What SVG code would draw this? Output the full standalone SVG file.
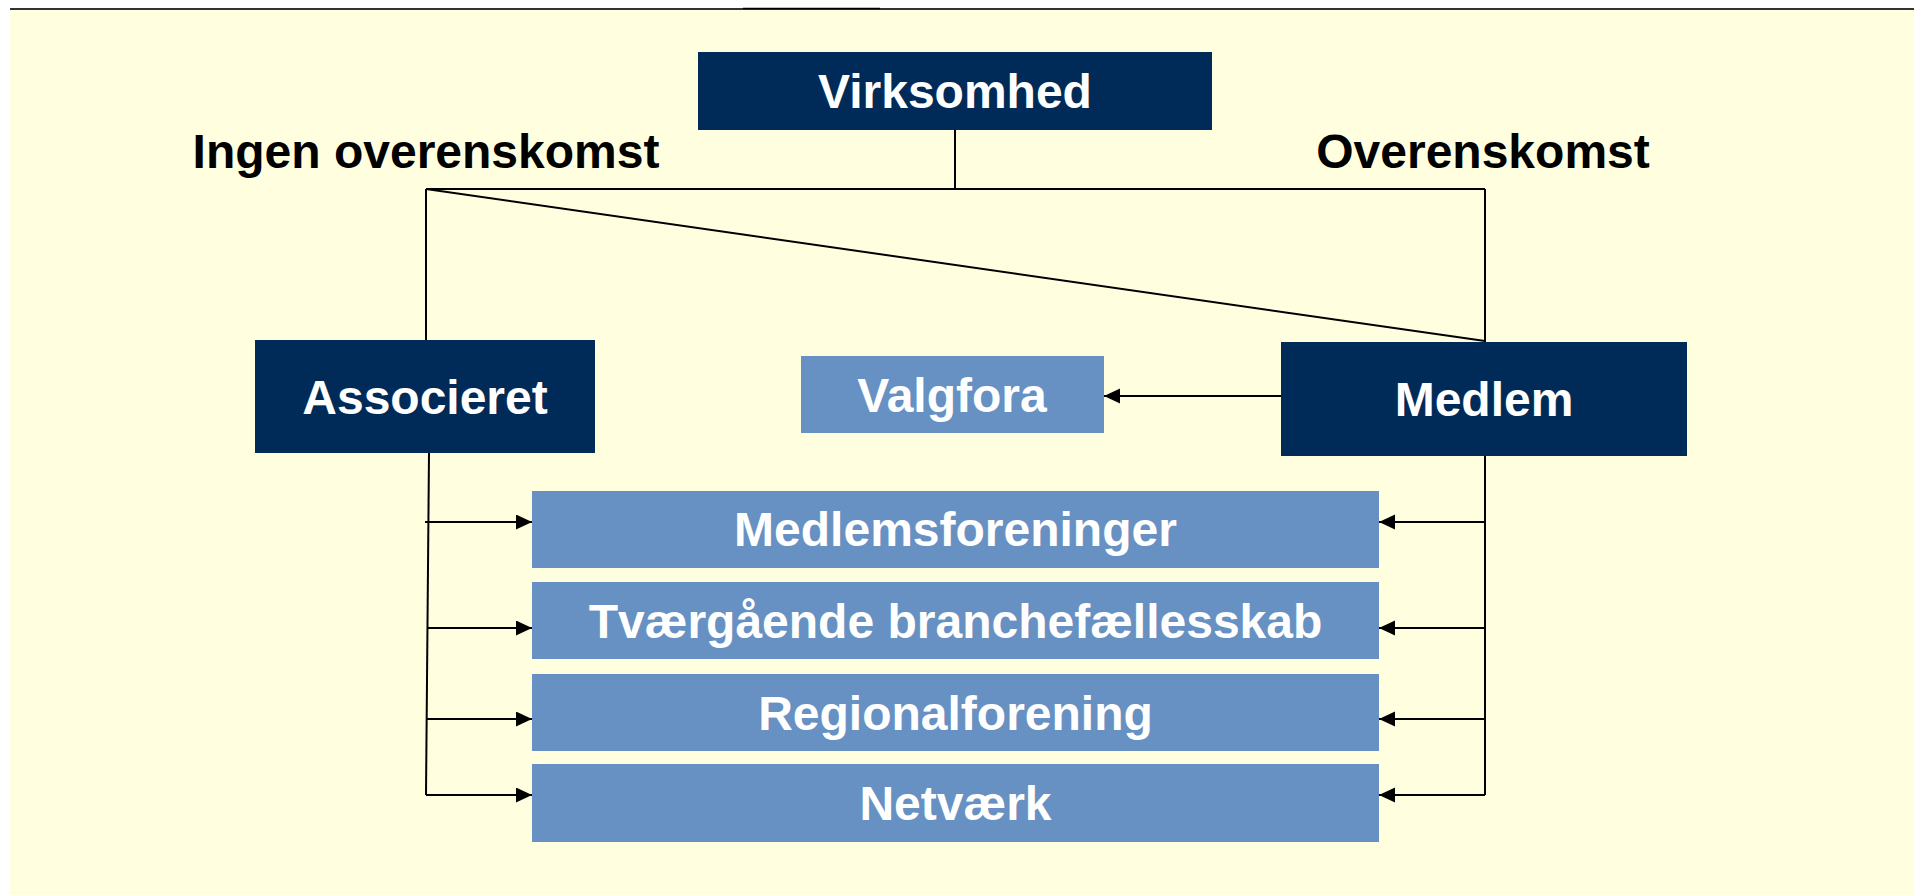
<svg xmlns="http://www.w3.org/2000/svg" width="1914" height="896" viewBox="0 0 1914 896">
<style>
.bg{fill:#FFFFE0}
.dark{fill:#002B58}
.light{fill:#6791C2}
.t{font-family:"Liberation Sans",Arial,sans-serif;font-weight:bold;font-size:48px;text-anchor:middle;fill:#FFFFFF}
.lbl{font-family:"Liberation Sans",Arial,sans-serif;font-weight:bold;font-size:48px;text-anchor:middle;fill:#000000}
.ln{stroke:#000;stroke-width:2;fill:none}
.ar{stroke:#000;stroke-width:2;fill:none;marker-end:url(#ah)}
</style>
<defs>
<marker id="ah" markerUnits="userSpaceOnUse" markerWidth="16" markerHeight="16" refX="16" refY="7.5" orient="auto">
<path d="M0,0 L16,7.5 L0,15 Z" fill="#000"/>
</marker>
</defs>
<rect x="0" y="0" width="1914" height="896" fill="#FFFFFF"/>
<rect class="bg" x="10" y="10" width="1904" height="885"/>
<line x1="10" y1="9" x2="1914" y2="9" stroke="#333" stroke-width="2"/>
<line x1="743" y1="8.5" x2="880" y2="8.5" stroke="#000" stroke-width="1.5"/>

<text class="lbl" x="426" y="168">Ingen overenskomst</text>
<text class="lbl" x="1483" y="168">Overenskomst</text>

<g id="connectors">
<line class="ln" x1="955" y1="130" x2="955" y2="189"/>
<line class="ln" x1="426" y1="189" x2="1485" y2="189"/>
<line class="ln" x1="426" y1="189" x2="426" y2="340"/>
<line class="ln" x1="1485" y1="189" x2="1485" y2="342"/>
<line class="ln" x1="426" y1="189" x2="1485" y2="341"/>
<line class="ar" x1="1281" y1="396" x2="1104" y2="396"/>
<line class="ln" x1="429" y1="453" x2="426" y2="795"/>
<line class="ar" x1="425" y1="522" x2="532" y2="522"/>
<line class="ar" x1="428" y1="628" x2="532" y2="628"/>
<line class="ar" x1="426" y1="719" x2="532" y2="719"/>
<line class="ar" x1="426" y1="795" x2="532" y2="795"/>
<line class="ln" x1="1485" y1="456" x2="1485" y2="795"/>
<line class="ar" x1="1485" y1="522" x2="1379" y2="522"/>
<line class="ar" x1="1485" y1="628" x2="1379" y2="628"/>
<line class="ar" x1="1485" y1="719" x2="1379" y2="719"/>
<line class="ar" x1="1485" y1="795" x2="1379" y2="795"/>
</g>

<g id="virksomhed">
<rect class="dark" x="698" y="52" width="514" height="78"/>
<text class="t" x="955" y="108">Virksomhed</text>
</g>
<g id="associeret">
<rect class="dark" x="255" y="340" width="340" height="113"/>
<text class="t" x="425" y="414">Associeret</text>
</g>
<g id="medlem">
<rect class="dark" x="1281" y="342" width="406" height="114"/>
<text class="t" x="1484" y="416">Medlem</text>
</g>
<g id="valgfora">
<rect class="light" x="801" y="356" width="303" height="77"/>
<text class="t" x="952" y="412">Valgfora</text>
</g>
<g id="medlemsforeninger">
<rect class="light" x="532" y="491" width="847" height="77"/>
<text class="t" x="955.5" y="546">Medlemsforeninger</text>
</g>
<g id="tvaergaaende">
<rect class="light" x="532" y="582" width="847" height="77"/>
<text class="t" x="955.5" y="638">Tværgående branchefællesskab</text>
</g>
<g id="regionalforening">
<rect class="light" x="532" y="674" width="847" height="77"/>
<text class="t" x="955.5" y="730">Regionalforening</text>
</g>
<g id="netvaerk">
<rect class="light" x="532" y="764" width="847" height="78"/>
<text class="t" x="955.5" y="820">Netværk</text>
</g>
</svg>
